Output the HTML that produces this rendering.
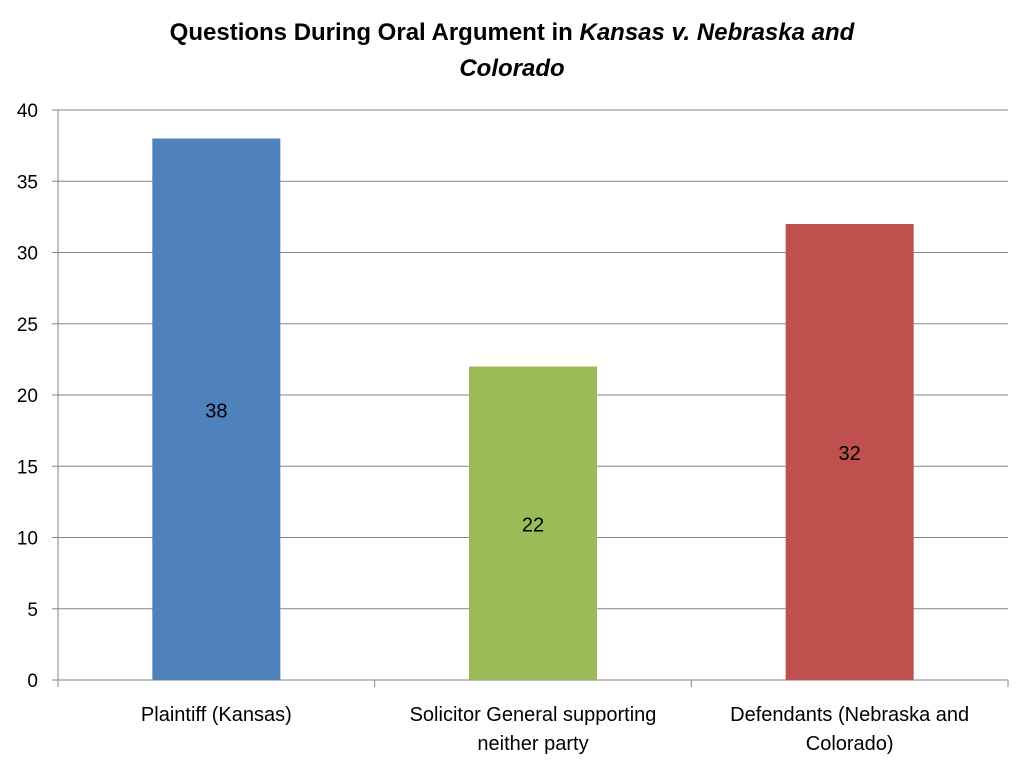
<!DOCTYPE html>
<html><head><meta charset="utf-8"><style>
body{margin:0;background:#fff;}
svg{display:block;font-family:"Liberation Sans",sans-serif;}
</style></head><body>
<svg id="chart" width="1024" height="768" viewBox="0 0 1024 768">
<text x="512" y="40" text-anchor="middle" font-size="24" font-weight="bold" fill="#000">Questions During Oral Argument in <tspan font-style="italic">Kansas v. Nebraska and</tspan></text>
<text x="512" y="76" text-anchor="middle" font-size="24" font-weight="bold" font-style="italic" fill="#000">Colorado</text>
<g id="grid"></g>
<g id="bars"></g>
<g id="axes"></g>
</svg>
<script>
const categories=[["Plaintiff (Kansas)"],["Solicitor General supporting","neither party"],["Defendants (Nebraska and","Colorado)"]];
const values=[38,22,32];
const colors=["#4F81BD","#9BBB59","#C0504D"];
const yTicks=[0,5,10,15,20,25,30,35,40];
const NS="http://www.w3.org/2000/svg";
const L=58,R=1008,T=110,B=680,yMax=40;
const y=v=>B-(v/yMax)*(B-T);
const bw=(R-L)/categories.length;
const x=i=>L+bw*i;
function mk(tag,attrs,parent){const e=document.createElementNS(NS,tag);for(const k in attrs)e.setAttribute(k,attrs[k]);parent.appendChild(e);return e;}
const grid=document.getElementById('grid'),bars=document.getElementById('bars'),axes=document.getElementById('axes');
yTicks.forEach(t=>{
 const ln=mk('line',{x1:L-6,x2:R,y1:y(t),y2:y(t),stroke:t===0?'#868686':'#868686','stroke-width':1},grid);
 
 
 const tx=mk('text',{x:L-20,y:y(t)+7,'text-anchor':'end','font-size':19,fill:'#000'},axes);
 tx.textContent=t;
 
 
});
const ya=mk('line',{x1:L,x2:L,y1:T,y2:B,stroke:'#868686'},axes);


for(let i=0;i<=categories.length;i++){
 const tk=mk('line',{x1:x(i),x2:x(i),y1:B,y2:B+7,stroke:'#868686'},axes);
 
 
}
values.forEach((v,i)=>{
 const w=128,cx=x(i)+bw/2;
 const r=mk('rect',{x:cx-w/2,y:y(v),width:w,height:B-y(v),fill:colors[i]},bars);
 
 
 const lb=mk('text',{x:cx,y:(y(v)+B)/2+8,'text-anchor':'middle','font-size':20,fill:'#000'},bars);
 lb.textContent=v;
 
 
 categories[i].forEach((line,j)=>{
  const ct=mk('text',{x:cx,y:721+j*29,'text-anchor':'middle','font-size':20,fill:'#000'},axes);
  ct.textContent=line;
  
  
 });
});
</script>
</body></html>
